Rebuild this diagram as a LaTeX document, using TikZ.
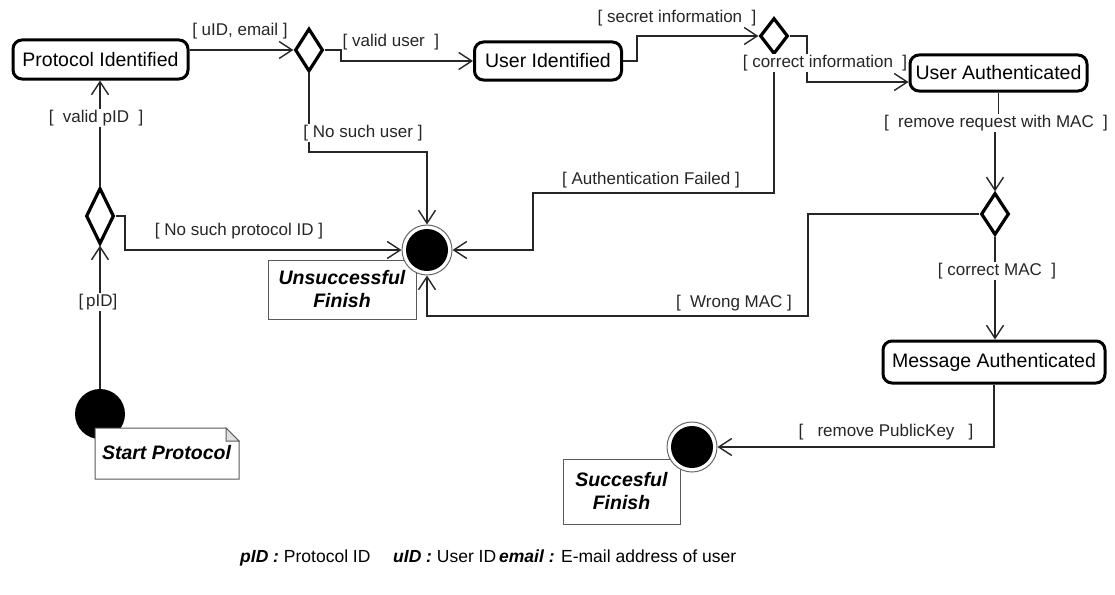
\documentclass[tikz,border=0pt]{standalone}
\usepackage{fontspec}
\setmainfont{Liberation Sans}
\usetikzlibrary{shapes.geometric,arrows.meta,calc}
\begin{document}
\begin{tikzpicture}[x=1pt,y=-1pt,
  state/.style={draw=black, line width=3pt, rounded corners=9pt, fill=white, font=\fontsize{19.5}{22}\selectfont, inner sep=0pt},
  choice/.style={diamond, draw=black, line width=3.2pt, fill=white, inner sep=0pt, minimum width=28pt},
  lbl/.style={font=\fontsize{17}{19}\selectfont, text=black!85, inner sep=1pt},
  wlbl/.style={lbl, fill=white},
  flow/.style={draw=black!85, line width=1.4pt, -{Straight Barb[length=13pt,width=17pt,line width=1.4pt]}},
  note/.style={draw=black!65, line width=1pt, fill=white, font=\fontsize{19.5}{23}\selectfont\bfseries\itshape, align=center, inner sep=0pt},
  finalring/.style={circle, draw=black!60, line width=1pt, fill=white, minimum size=50pt, inner sep=0pt},
  finaldot/.style={circle, fill=black, minimum size=42pt, inner sep=0pt},
  lgd/.style={font=\fontsize{17.5}{20}\selectfont, inner sep=0pt}
]
\useasboundingbox (0,0) rectangle (1115,594);

% states
\node[state, minimum width=175pt, minimum height=39pt] (PI) at (100.5,59.5) {Protocol Identified};
\node[state, minimum width=147pt, minimum height=38pt] (UI) at (548,61) {User Identified};
\node[state, minimum width=177pt, minimum height=36pt] (UA) at (998.5,73) {User Authenticated};
\node[state, minimum width=222pt, minimum height=42pt] (MA) at (994,362) {Message Authenticated};

% decisions
\node[choice, minimum height=43pt] (D1) at (309,50) {};
\node[choice, minimum height=56pt] (D2) at (100,216) {};
\node[choice, minimum height=36pt] (D3) at (774,36) {};
\node[choice, minimum height=42pt] (D4) at (995,214) {};

% notes
\node[note, minimum width=148pt, minimum height=59pt] (NF) at (342,289.5) {Unsuccessful\\Finish};
\node[note, minimum width=117pt, minimum height=65pt] (NS) at (621.5,491.5) {Succesful\\Finish};

% start / finals
\node[circle, fill=black, minimum size=50pt, inner sep=0pt] (Start) at (100,414) {};
\node[finalring] (Fail) at (427,250) {};
\node[finaldot] (FailIn) at (Fail) {};
\node[finalring] (Succ) at (692,447) {};
\node[finaldot] (SuccIn) at (Succ) {};

% start note with folded corner
\draw[draw=black!65, line width=1pt, fill=white] (95,428) -- (226,428) -- (239,441) -- (239,479) -- (95,479) -- cycle;
\draw[draw=black!65, line width=1pt, fill=black!12] (226,428) -- (226,441) -- (239,441) -- cycle;
\node[font=\fontsize{19.5}{23}\selectfont\bfseries\itshape, inner sep=0pt] (NSt) at (166.5,453) {Start Protocol};

% connectors
\draw[flow] (Start.north) -- (D2.south)
  node[wlbl] at (98,302) {[\,pID]};
\draw[flow] (D2.north) -- (D2.north |- PI.south)
  node[wlbl] at (96,118) {[\ \ valid pID\ \ ]};
\draw[flow] (D2.east) -- (125,216) -- (125,250) -- (Fail.west)
  node[lbl] at (239,231) {[ No such protocol ID ]};
\draw[flow] (PI.east |- D1.west) -- (D1.west)
  node[lbl] at (240,31) {[ uID, email ]};
\draw[flow] (D1.east) -- (341,50) -- (341,61) -- (UI.west)
  node[lbl, anchor=west] at (341,42) {[ valid user\ \ ]};
\draw[flow] (D1.south) -- (309,152) -| (Fail.north)
  node[wlbl] at (363,133) {[ No such user ]};
\draw[flow] (UI.east) -- (637,61) -- (637,36) -- (D3.west)
  node[lbl] at (677,18) {[ secret information\ \ ]};
\draw[flow] (D3.east) -- (807,36) -- (807,82) -- ($(UA.west)+(0,9)$);
\draw[flow] (D3.south) -- (774,193) -- (533,193) -- (533,250) -- (Fail.east)
  node[lbl] at (651,180) {[ Authentication Failed ]};
\node[wlbl] (LCI) at (825,63) {[ correct information\ \ ]};
\draw[flow] (UA.south) -- ++(0,32) -| (D4.north)
  node[wlbl] at (996,123) {[\ \ remove request with MAC\ \ ]};
\draw[flow] (D4.south) -- (D4.south |- MA.north)
  node[wlbl] at (997,271) {[ correct MAC\ \ ]};
\draw[flow] (D4.west) -- (808,214) -- (808,316) -| (Fail.south)
  node[lbl] at (734,303) {[\ \ Wrong MAC ]};
\draw[flow] (MA.south) |- (Succ.east)
  node[lbl] at (886,432) {[\ \ \ remove PublicKey\ \ \ ]};

% legend
\node[lgd, anchor=base west] (L1) at (240,562) {\textbf{\textit{pID :}} Protocol ID};
\node[lgd, anchor=base west] (L2) at (393,562) {\textbf{\textit{uID :}} User ID};
\node[lgd, anchor=base west] (L3) at (499,562) {\textbf{\textit{email :}} E-mail address of user};
\end{tikzpicture}
\end{document}
